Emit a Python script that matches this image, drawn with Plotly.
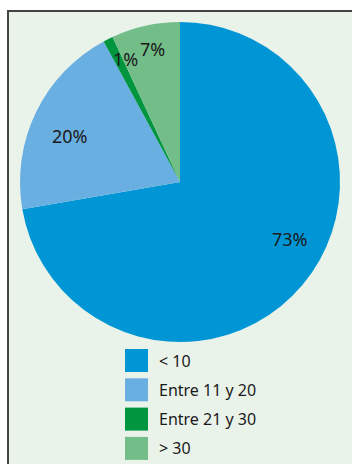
import math
import plotly.graph_objects as go

# Age-group shares (percent)
categories = ["< 10", "Entre 11 y 20", "Entre 21 y 30", "> 30"]
shares = [73, 20, 1, 7]
colors = ["#0096D6", "#6AAFE1", "#00953F", "#72BD88"]

# Label placement tweaks: radial fraction of radius, angular nudge (deg)
label_radius = [0.773, 0.745, 0.84, 0.85]
label_nudge = [-12.4, -3.0, 3.0, 1.0]

W, H = 352, 464
CX, CY, R = 180.0, 182.0, 160.0  # pie centre / radius in px

fig = go.Figure()
fig.add_trace(go.Pie(
    labels=categories,
    values=shares,
    sort=False,
    direction="clockwise",
    rotation=0,
    marker=dict(colors=colors, line=dict(width=0)),
    textinfo="none",
    hoverinfo="label+value",
    showlegend=False,
    domain=dict(x=[(CX - R) / W, (CX + R) / W],
                y=[1 - (CY + R) / H, 1 - (CY - R) / H]),
))

# Frame with pale green fill
shapes = [dict(type="rect", xref="paper", yref="paper",
               x0=8 / W, x1=1.2, y0=-0.2, y1=1 - 11 / H,
               fillcolor="#EAF3EA", line=dict(color="#444444", width=2),
               layer="below")]

annotations = []
total = sum(shares)
cum = 0.0
for i, v in enumerate(shares):
    mid = (cum + v / 2) / total * 360 + label_nudge[i]
    cum += v
    th = math.radians(mid)
    px = CX + label_radius[i] * R * math.sin(th)
    py = CY - label_radius[i] * R * math.cos(th)
    annotations.append(dict(
        x=px / W, y=1 - py / H, xref="paper", yref="paper",
        text=f"{v}%", showarrow=False, xanchor="center", yanchor="middle",
        font=dict(family="Noto Sans", size=18, color="#1A1A1A"),
    ))

# Hand-built legend with large colour squares
SQ_X0, SQ_SIZE, ROW0, ROW_STEP, TXT_X = 125, 23, 349, 29.3, 157
for i, (lab, col) in enumerate(zip(categories, colors)):
    top = ROW0 + i * ROW_STEP
    shapes.append(dict(type="rect", xref="paper", yref="paper",
                       x0=SQ_X0 / W, x1=(SQ_X0 + SQ_SIZE) / W,
                       y0=1 - (top + SQ_SIZE) / H, y1=1 - top / H,
                       fillcolor=col, line=dict(width=0)))
    annotations.append(dict(
        x=TXT_X / W, y=1 - (top + SQ_SIZE / 2) / H, xref="paper", yref="paper",
        text=lab, showarrow=False, xanchor="left", yanchor="middle",
        font=dict(family="Noto Sans", size=16, color="#1A1A1A"),
    ))

fig.update_layout(
    width=W, height=H,
    margin=dict(l=0, r=0, t=0, b=0),
    paper_bgcolor="#FFFFFF",
    plot_bgcolor="#FFFFFF",
    shapes=shapes,
    annotations=annotations,
)

fig.write_html("out.html", config={"displayModeBar": False})
